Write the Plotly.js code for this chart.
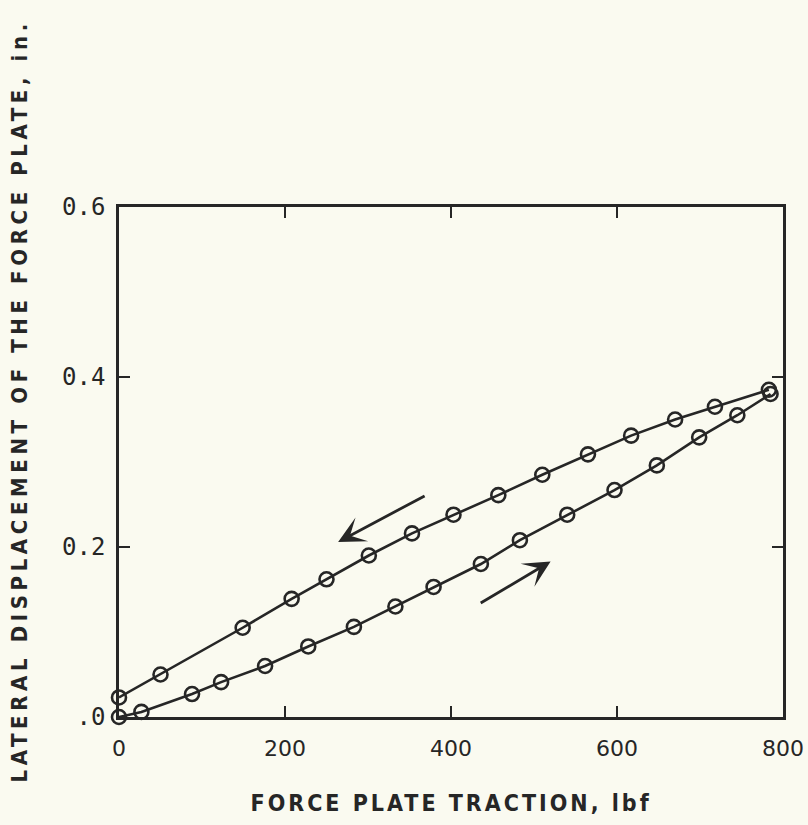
<!DOCTYPE html>
<html>
<head>
<meta charset="utf-8">
<script src="https://cdn.plot.ly/plotly-3.0.1.min.js"></script>
<style>
  html, body { margin: 0; padding: 0; background: #fafaf0; }
  #chart { width: 808px; height: 825px; }
</style>
</head>
<body>
<div id="chart"></div>
<script>
// Loading (increasing traction) branch
const loadX = [0, 27, 88, 123, 176, 228, 283, 333, 379, 436, 483, 540, 597, 648, 699, 745, 785];
const loadY = [0.000, 0.006, 0.027, 0.041, 0.060, 0.083, 0.106, 0.130, 0.153, 0.180, 0.208, 0.238, 0.267, 0.296, 0.329, 0.355, 0.380];
// Unloading (decreasing traction) branch
const unloadX = [783, 718, 670, 617, 565, 510, 457, 403, 353, 301, 250, 208, 149, 50, 0];
const unloadY = [0.385, 0.365, 0.350, 0.331, 0.309, 0.285, 0.261, 0.238, 0.216, 0.190, 0.162, 0.139, 0.105, 0.050, 0.023];

// Direction arrows: [tailX, tailY, headX, headY]
const arrowUnload = [370, 0.261, 264, 0.206];
const arrowLoad = [434, 0.133, 520, 0.183];

const xTickVals = [0, 200, 400, 600, 800];
const xTickText = ['0', '200', '400', '600', '800'];
const yTickVals = [0, 0.2, 0.4, 0.6];
const yTickText = ['.0', '0.2', '0.4', '0.6'];

const xTitle = 'FORCE PLATE TRACTION, lbf';
const yTitle = 'LATERAL DISPLACEMENT OF THE FORCE PLATE, in.';

const ink = '#262626';
const markerStyle = { symbol: 'circle-open', size: 14, color: ink, line: { width: 2.6, color: ink } };

const traces = [
  { x: loadX, y: loadY, mode: 'lines+markers', line: { color: ink, width: 2.6 }, marker: markerStyle, cliponaxis: false, hoverinfo: 'none' },
  { x: unloadX, y: unloadY, mode: 'lines+markers', line: { color: ink, width: 2.6 }, marker: markerStyle, cliponaxis: false, hoverinfo: 'none' }
];

function arrow(a) {
  return { x: a[2], y: a[3], ax: a[0], ay: a[1], xref: 'x', yref: 'y', axref: 'x', ayref: 'y',
           text: '', showarrow: true, arrowhead: 3, arrowsize: 1.6, arrowwidth: 2.8, arrowcolor: ink };
}

const layout = {
  width: 808, height: 825,
  margin: { l: 119, r: 25, t: 207, b: 108 },
  paper_bgcolor: '#fafaf0', plot_bgcolor: '#fafaf0',
  showlegend: false,
  xaxis: {
    range: [0, 800], tickvals: xTickVals, ticktext: xTickText,
    ticks: 'inside', ticklen: 11, tickwidth: 2.5, tickcolor: ink,
    showline: true, mirror: 'ticks', linewidth: 2.8, linecolor: ink,
    showgrid: false, zeroline: false, ticklabelstandoff: 10,
    tickfont: { family: 'DejaVu Sans', size: 22, color: ink }
  },
  yaxis: {
    range: [0, 0.6], tickvals: yTickVals, ticktext: yTickText,
    ticks: 'inside', ticklen: 11, tickwidth: 2.5, tickcolor: ink,
    showline: true, mirror: 'ticks', linewidth: 2.8, linecolor: ink,
    showgrid: false, zeroline: false, ticklabelstandoff: 6,
    tickfont: { family: 'DejaVu Sans Mono', size: 24, color: ink }
  },
  annotations: [
    arrow(arrowUnload), arrow(arrowLoad),
    { text: xTitle, xref: 'paper', yref: 'paper', x: 0.50, y: -0.168, showarrow: false,
      xanchor: 'center', yanchor: 'middle',
      font: { family: 'DejaVu Sans Condensed', size: 23, color: ink, weight: 'bold' } },
    { text: yTitle, xref: 'paper', yref: 'paper', x: -0.150, y: 0.62, showarrow: false, textangle: -90,
      xanchor: 'center', yanchor: 'middle',
      font: { family: 'DejaVu Sans Condensed', size: 22, color: ink, weight: 'bold' } }
  ]
};

Plotly.newPlot('chart', traces, layout, { displayModeBar: false, staticPlot: true }).then(function () {
  const texts = document.querySelectorAll('.annotation-text');
  texts.forEach(function (t) {
    const s = t.textContent;
    if (s === xTitle) t.style.letterSpacing = '3px';
    if (s === yTitle) t.style.letterSpacing = '4.6px';
  });
});
</script>
</body>
</html>
